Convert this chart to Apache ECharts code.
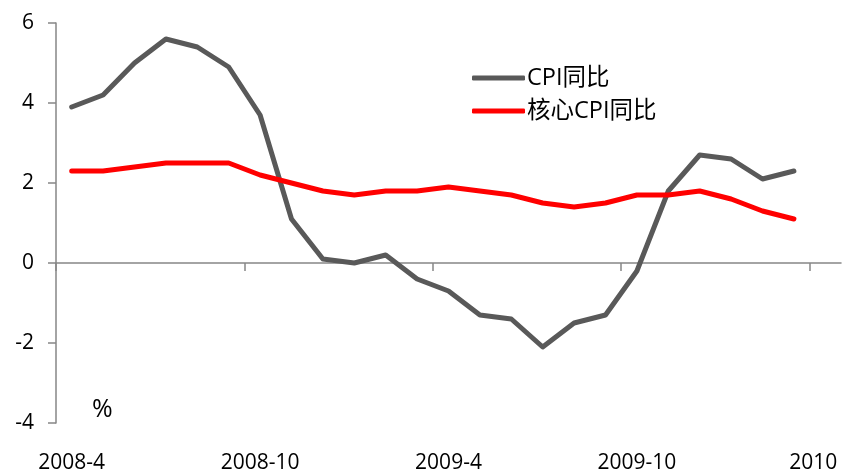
<!DOCTYPE html>
<html>
<head>
<meta charset="utf-8">
<script src="https://cdn.jsdelivr.net/npm/echarts@6/dist/echarts.min.js"></script>
<style>
html,body{margin:0;padding:0;background:#fff;}
#chart{width:842px;height:474px;}
</style>
</head>
<body>
<div id="chart"></div>
<script>
// Months Apr 2008 .. Mar 2010
var months = ["2008-4","2008-5","2008-6","2008-7","2008-8","2008-9","2008-10","2008-11","2008-12",
  "2009-1","2009-2","2009-3","2009-4","2009-5","2009-6","2009-7","2009-8","2009-9","2009-10","2009-11","2009-12",
  "2010-1","2010-2","2010-3"];
var cpi = [3.9,4.2,5.0,5.6,5.4,4.9,3.7,1.1,0.1,0.0,0.2,-0.4,-0.7,-1.3,-1.4,-2.1,-1.5,-1.3,-0.2,1.8,2.7,2.6,2.1,2.3];
var coreCpi = [2.3,2.3,2.4,2.5,2.5,2.5,2.2,2.0,1.8,1.7,1.8,1.8,1.9,1.8,1.7,1.5,1.4,1.5,1.7,1.7,1.8,1.6,1.3,1.1];
var tickLabels = ["2008-4","2008-10","2009-4","2009-10","2010"];
var tickMonthIndex = [0,6,12,18,24];
var seriesNames = ["CPI同比","核心CPI同比"];
var yTicks = [-4,-2,0,2,4,6];

var FONT = "'Open Sans','Noto Sans CJK SC',sans-serif";
var nBands = 25;

function toPoints(arr){ return arr.map(function(v,i){ return [i+0.5, v]; }); }

var chart = echarts.init(document.getElementById('chart'), null, {renderer:'canvas'});
var labelPos = tickMonthIndex.map(function(i){ return i+0.5; });
var option = {
  animation:false,
  backgroundColor:'#ffffff',
  grid:{left:56, right:1, top:23, bottom:51, containLabel:false},
  legend:{
    orient:'vertical', left:467, top:60, itemWidth:53, itemHeight:5, itemGap:7,
    icon:'roundRect',
    textStyle:{fontFamily:FONT, fontSize:23.5, color:'#000', lineHeight:26, padding:[0,0,0,-3]},
    data:seriesNames
  },
  xAxis:[{
    type:'value', min:0, max:nBands,
    axisLine:{show:true, onZero:true, lineStyle:{color:'#868686', width:1.5}},
    axisTick:{show:true, length:8, customValues:tickMonthIndex, lineStyle:{color:'#868686', width:1.5}},
    axisLabel:{show:false},
    splitLine:{show:false}
  },{
    type:'value', min:0, max:nBands, position:'bottom',
    axisLine:{show:false, onZero:false},
    axisTick:{show:false},
    splitLine:{show:false},
    axisLabel:{
      show:true, margin:30, customValues:labelPos,
      fontFamily:FONT, fontSize:21, color:'#000',
      formatter:function(v){
        var k = labelPos.indexOf(v);
        if (k < 0) return '';
        if (k === labelPos.length-1) return '{last|' + tickLabels[k] + '}';
        return tickLabels[k];
      },
      rich:{last:{fontFamily:FONT, fontSize:21, color:'#000', padding:[0,24,0,0]}}
    }
  }],
  yAxis:{
    type:'value', min:-4, max:6, interval:2,
    axisLine:{show:true, onZero:false, lineStyle:{color:'#868686', width:1.5}},
    axisTick:{show:true, length:8, lineStyle:{color:'#868686', width:1.5}},
    axisLabel:{fontFamily:FONT, fontSize:21, color:'#000', margin:22},
    splitLine:{show:false}
  },
  graphic:[{
    type:'text', left:92, top:397,
    style:{text:'%', fontFamily:FONT, fontSize:25, fill:'#000'}
  }],
  series:[{
    name:seriesNames[0], type:'line', xAxisIndex:0, data:toPoints(cpi),
    symbol:'none', color:'#595959',
    lineStyle:{color:'#595959', width:5, join:'round', cap:'round'}
  },{
    name:seriesNames[1], type:'line', xAxisIndex:0, data:toPoints(coreCpi),
    symbol:'none', color:'#ff0000',
    lineStyle:{color:'#ff0000', width:5, join:'round', cap:'round'}
  }]
};
chart.setOption(option);
</script>
</body>
</html>
